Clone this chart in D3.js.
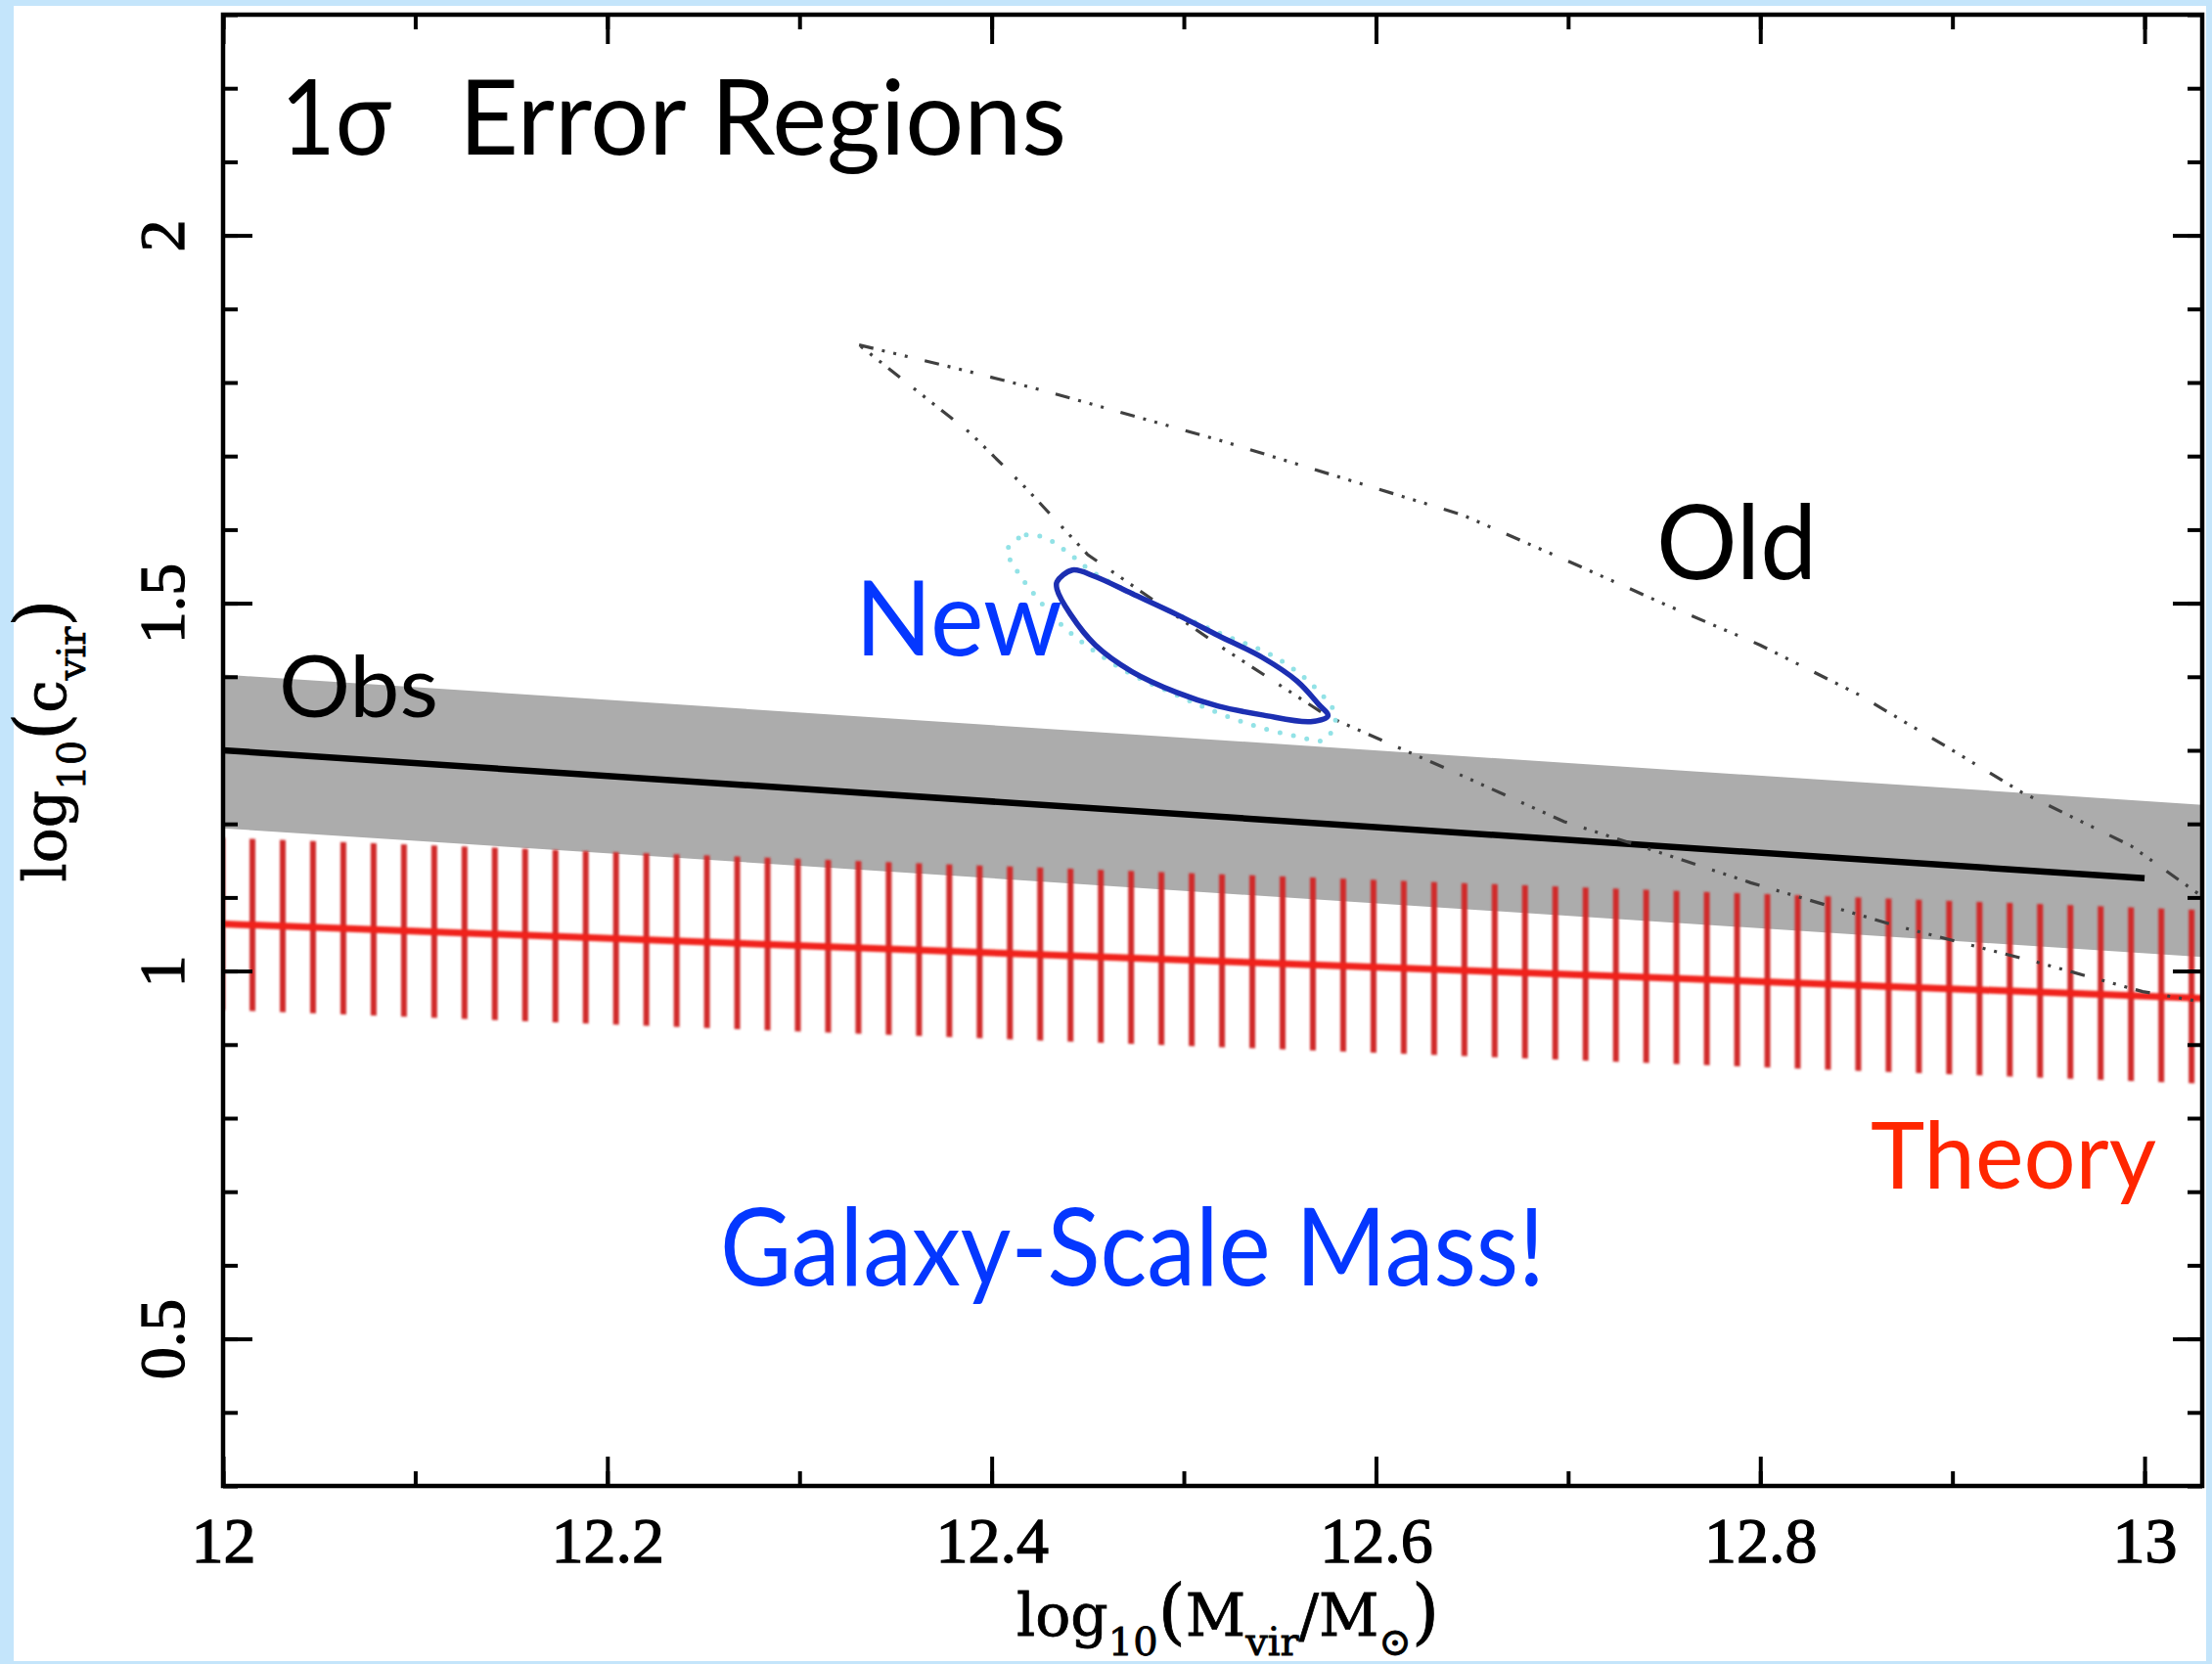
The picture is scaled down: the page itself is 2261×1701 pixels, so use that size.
<!DOCTYPE html>
<html>
<head>
<meta charset="utf-8">
<script src="https://cdn.jsdelivr.net/npm/d3@7"></script>
<style>
  html, body { margin: 0; padding: 0; background: #c4e5fb; }
  svg { display: block; }
</style>
</head>
<body>
<svg id="chart" width="2261" height="1701"></svg>
<script>
// ---- axis ticks ----
const xMajorTicks = [12, 12.2, 12.4, 12.6, 12.8, 13];
const xTickLabels = ["12", "12.2", "12.4", "12.6", "12.8", "13"];
const yMajorTicks = [0.5, 1, 1.5, 2];
const yTickLabels = ["0.5", "1", "1.5", "2"];

// ---- observed c–M relation (median line and 1σ band) ----
const obsBandMass  = [12.0, 13.03];
const obsBandUpper = [1.403, 1.226];
const obsBandLower = [1.194, 1.019];
const obsLineMass  = [12.0, 13.0];
const obsLineConc  = [1.300, 1.126];

// ---- theoretical c–M relation (median and 1σ scatter) ----
const theoryMass  = [12.0, 13.03];
const theoryConc  = [1.064, 0.963];
const theoryUpper = [1.181, 1.083];
const theoryLower = [0.947, 0.847];

// ---- previous 1σ region ("Old") ----
const oldMass = [12.331, 12.382, 12.427, 12.518, 12.645, 12.701, 12.749, 12.800, 12.851, 12.902,
                 12.936, 12.993, 13.028, 13.070, 13.070, 12.999, 12.944, 12.870, 12.795, 12.749,
                 12.698, 12.641, 12.575, 12.518, 12.450, 12.418, 12.389, 12.359];
const oldConc = [1.851, 1.819, 1.789, 1.722, 1.620, 1.556, 1.500, 1.443, 1.376, 1.297,
                 1.243, 1.170, 1.105, 1.040, 0.940, 0.972, 1.012, 1.062, 1.120, 1.160,
                 1.203, 1.270, 1.346, 1.443, 1.566, 1.656, 1.731, 1.793];

// ---- new 1σ region (solid) ----
const newMass = [12.434, 12.442, 12.454, 12.473, 12.496, 12.518, 12.541, 12.559, 12.570, 12.575,
                 12.566, 12.541, 12.518, 12.496, 12.473, 12.454, 12.441, 12.434];
const newConc = [1.529, 1.545, 1.536, 1.513, 1.485, 1.456, 1.426, 1.394, 1.363, 1.347,
                 1.339, 1.348, 1.360, 1.379, 1.407, 1.443, 1.485, 1.519];

// ---- new region, outer dotted contour ----
const newOuterMass = [12.408, 12.418, 12.430, 12.441, 12.454, 12.484, 12.518, 12.548, 12.568, 12.579,
                      12.573, 12.559, 12.536, 12.513, 12.493, 12.473, 12.454, 12.437, 12.420, 12.412];
const newOuterConc = [1.572, 1.593, 1.586, 1.566, 1.540, 1.500, 1.460, 1.426, 1.386, 1.346,
                      1.314, 1.319, 1.334, 1.356, 1.379, 1.403, 1.434, 1.469, 1.519, 1.549];

// ---- figure ----
const W = 2261, H = 1701;
const svg = d3.select("#chart");

const x = d3.scaleLinear().domain([12, 13.03]).range([228, 2251]);
const y = d3.scaleLinear().domain([0.3, 2.3]).range([1519, 15]);
const [x0, x1] = x.range();
const [y0, y1] = y.range();

svg.append("rect").attr("width", W).attr("height", H).attr("fill", "#c4e5fb");
svg.append("rect").attr("x", 14).attr("y", 6).attr("width", W - 20).attr("height", H - 9).attr("fill", "#ffffff");

const defs = svg.append("defs");
defs.append("clipPath").attr("id", "plotArea")
  .append("rect").attr("x", x0).attr("y", y1).attr("width", x1 - x0).attr("height", y0 - y1);

// vertical hatching used for the theory scatter band
const hatchStep = 30.97;
const hatch = defs.append("pattern").attr("id", "hatch")
  .attr("patternUnits", "userSpaceOnUse")
  .attr("x", x(12.0153) - 3).attr("y", 0)
  .attr("width", hatchStep).attr("height", 20);
hatch.append("rect").attr("x", 0).attr("y", 0).attr("width", 6).attr("height", 20).attr("fill", "#d02b2b");

const soft = defs.append("filter").attr("id", "soft").attr("x", "-5%").attr("y", "-5%").attr("width", "110%").attr("height", "110%");
soft.append("feGaussianBlur").attr("stdDeviation", 0.8);

const plot = svg.append("g").attr("clip-path", "url(#plotArea)");

// observed band
const band = (mass, lo, hi) => d3.area()
  .x((d, i) => x(mass[i])).y0((d, i) => y(lo[i])).y1((d, i) => y(hi[i]))(mass);
plot.append("path").attr("d", band(obsBandMass, obsBandLower, obsBandUpper)).attr("fill", "#acacac");

// observed median
plot.append("path")
  .attr("d", d3.line().x((d, i) => x(obsLineMass[i])).y((d, i) => y(obsLineConc[i]))(obsLineMass))
  .attr("fill", "none").attr("stroke", "#000").attr("stroke-width", 6.5);

// theory band + median
const theoryG = plot.append("g").attr("filter", "url(#soft)");
theoryG.append("path").attr("d", band(theoryMass, theoryLower, theoryUpper)).attr("fill", "url(#hatch)");
theoryG.append("path")
  .attr("d", d3.line().x((d, i) => x(theoryMass[i])).y((d, i) => y(theoryConc[i]))(theoryMass))
  .attr("fill", "none").attr("stroke", "#f0241a").attr("stroke-width", 7);

// old region
plot.append("path")
  .attr("d", d3.line().x((d, i) => x(oldMass[i])).y((d, i) => y(oldConc[i])).curve(d3.curveLinearClosed)(oldMass))
  .attr("fill", "none").attr("stroke", "#404040").attr("stroke-width", 3.2)
  .attr("stroke-dasharray", "15 9 3 9 3 9 3 18");

// new region, outer dotted
plot.append("path")
  .attr("d", d3.line().x((d, i) => x(newOuterMass[i])).y((d, i) => y(newOuterConc[i])).curve(d3.curveCatmullRomClosed.alpha(0.5))(newOuterMass))
  .attr("fill", "none").attr("stroke", "#92e2e6").attr("stroke-width", 5)
  .attr("stroke-linecap", "round").attr("stroke-dasharray", "0 14");

// new region, solid
plot.append("path")
  .attr("d", d3.line().x((d, i) => x(newMass[i])).y((d, i) => y(newConc[i])).curve(d3.curveCatmullRomClosed.alpha(0.5))(newMass))
  .attr("fill", "none").attr("stroke", "#1c2fb2").attr("stroke-width", 5.5).attr("stroke-linejoin", "round");

// ---- axes ----
const tickFont = "'Liberation Serif', 'Times New Roman', serif";
function styleAxis(g) {
  g.select(".domain").remove();
  g.selectAll(".tick line").attr("stroke", "#000").attr("stroke-width", 4);
}
const minorX = x.ticks(10);
const minorY = y.ticks(20);

// bottom
svg.append("g").attr("transform", `translate(0,${y0})`)
  .call(d3.axisBottom(x).tickValues(minorX).tickSizeInner(-15).tickSizeOuter(0).tickFormat(""))
  .call(styleAxis);
const bottom = svg.append("g").attr("transform", `translate(0,${y0})`)
  .call(d3.axisBottom(x).tickValues(xMajorTicks).tickSizeInner(-30).tickSizeOuter(0)
    .tickFormat((d, i) => xTickLabels[i]))
  .call(styleAxis);
bottom.selectAll(".tick text")
  .attr("y", 78).attr("dy", null)
  .attr("font-family", tickFont).attr("font-size", 66).attr("fill", "#000")
  .attr("stroke", "#000").attr("stroke-width", 1.3);

// top
svg.append("g").attr("transform", `translate(0,${y1})`)
  .call(d3.axisTop(x).tickValues(minorX).tickSizeInner(-15).tickSizeOuter(0).tickFormat(""))
  .call(styleAxis);
svg.append("g").attr("transform", `translate(0,${y1})`)
  .call(d3.axisTop(x).tickValues(xMajorTicks).tickSizeInner(-30).tickSizeOuter(0).tickFormat(""))
  .call(styleAxis);

// left
svg.append("g").attr("transform", `translate(${x0},0)`)
  .call(d3.axisLeft(y).tickValues(minorY).tickSizeInner(-15).tickSizeOuter(0).tickFormat(""))
  .call(styleAxis);
const left = svg.append("g").attr("transform", `translate(${x0},0)`)
  .call(d3.axisLeft(y).tickValues(yMajorTicks).tickSizeInner(-30).tickSizeOuter(0)
    .tickFormat((d, i) => yTickLabels[i]))
  .call(styleAxis);
left.selectAll(".tick text")
  .attr("x", 0).attr("y", -40).attr("dy", null)
  .attr("transform", "rotate(-90)")
  .attr("text-anchor", "middle")
  .attr("font-family", tickFont).attr("font-size", 66).attr("fill", "#000")
  .attr("stroke", "#000").attr("stroke-width", 1.3);

// right
svg.append("g").attr("transform", `translate(${x1},0)`)
  .call(d3.axisRight(y).tickValues(minorY).tickSizeInner(-15).tickSizeOuter(0).tickFormat(""))
  .call(styleAxis);
svg.append("g").attr("transform", `translate(${x1},0)`)
  .call(d3.axisRight(y).tickValues(yMajorTicks).tickSizeInner(-30).tickSizeOuter(0).tickFormat(""))
  .call(styleAxis);

// frame
svg.append("rect").attr("x", x0).attr("y", y1).attr("width", x1 - x0).attr("height", y0 - y1)
  .attr("fill", "none").attr("stroke", "#000").attr("stroke-width", 4.5);

// axis titles
const titleFont = "'DejaVu Serif', serif";
const xt = svg.append("text")
  .attr("x", 1255).attr("y", 1672).attr("text-anchor", "middle")
  .attr("font-family", titleFont).attr("font-size", 60).attr("fill", "#000")
  .attr("stroke", "#000").attr("stroke-width", 0.8);
xt.append("tspan").text("log");
xt.append("tspan").attr("font-size", 40).attr("dy", 20).text("10");
xt.append("tspan").attr("font-size", 72).attr("dy", -20).text("(");
xt.append("tspan").attr("font-size", 60).text("M");
xt.append("tspan").attr("font-size", 40).attr("dy", 20).text("vir");
xt.append("tspan").attr("font-size", 60).attr("dy", -20).text("/M");
xt.append("tspan").attr("font-size", 40).attr("dy", 20).text("\u2299");
xt.append("tspan").attr("font-size", 72).attr("dy", -20).text(")");

const yt = svg.append("text")
  .attr("transform", "translate(67,757) rotate(-90)")
  .attr("text-anchor", "middle")
  .attr("font-family", titleFont).attr("font-size", 60).attr("fill", "#000")
  .attr("stroke", "#000").attr("stroke-width", 0.8);
yt.append("tspan").text("log");
yt.append("tspan").attr("font-size", 40).attr("dy", 20).text("10");
yt.append("tspan").attr("font-size", 72).attr("dy", -20).text("(");
yt.append("tspan").attr("font-size", 60).text("c");
yt.append("tspan").attr("font-size", 40).attr("dy", 20).text("vir");
yt.append("tspan").attr("font-size", 72).attr("dy", -20).text(")");

// ---- annotations ----
const noteFont = "Lato, 'Open Sans', sans-serif";
function note(txt, px, py, size, width, color) {
  svg.append("text").attr("x", px).attr("y", py)
    .attr("font-family", noteFont).attr("font-size", size).attr("fill", color)
    .attr("textLength", width).attr("lengthAdjust", "spacingAndGlyphs")
    .text(txt);
}
note("1\u03C3", 287, 158, 106, 113, "#000");
note("Error Regions", 469, 158, 106, 621, "#000");
note("New", 874, 670, 107, 212, "#0437ff");
note("Old", 1693, 592, 107, 164, "#000");
note("Obs", 285, 733, 88, 163, "#000");
note("Theory", 1912, 1215, 95, 292, "#ff2600");
note("Galaxy-Scale Mass!", 736, 1314, 110, 843, "#0437ff");
</script>
</body>
</html>
